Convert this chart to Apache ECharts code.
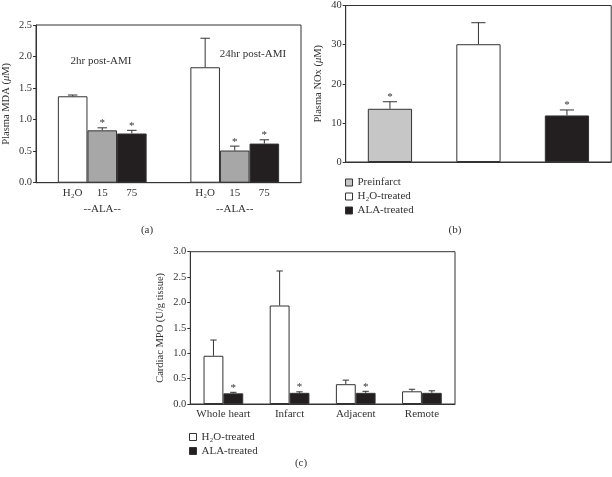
<!DOCTYPE html>
<html><head><meta charset="utf-8">
<script src="https://cdn.jsdelivr.net/npm/echarts@6/dist/echarts.min.js"></script>
<style>html,body{margin:0;padding:0;background:#fff}#c{width:612px;height:477px}</style>
</head><body><div id="c"></div>
<script>
// ---- Panel (a): Plasma MDA ----
const aCategories = ['2hr post-AMI', '24hr post-AMI'];
const aBarLabels = ['H\u2082O', '15', '75'];
const aH2O = [1.37, 1.83];
const aH2OErr = [1.39, 2.29];
const a15 = [0.83, 0.51];
const a15Err = [0.87, 0.58];
const a75 = [0.78, 0.62];
const a75Err = [0.83, 0.68];
const aH2OStar = [0, 0];
const a15Star = [1, 1];
const a75Star = [1, 1];
const aTicks = [0, 0.5, 1.0, 1.5, 2.0, 2.5];

// ---- Panel (b): Plasma NOx ----
const bCategories = ['Preinfarct', 'H\u2082O-treated', 'ALA-treated'];
const bValues = [13.6, 30.1, 11.9];
const bErr = [15.4, 35.6, 13.3];
const bStars = [1, 0, 1];
const bTicks = [0, 10, 20, 30, 40];

// ---- Panel (c): Cardiac MPO ----
const cCategories = ['Whole heart', 'Infarct', 'Adjacent', 'Remote'];
const cH2O = [0.95, 1.94, 0.39, 0.25];
const cH2OErr = [1.26, 2.62, 0.47, 0.29];
const cALA = [0.21, 0.22, 0.22, 0.22];
const cALAErr = [0.23, 0.24, 0.25, 0.26];
const cH2OStar = [0, 0, 0, 0];
const cALAStar = [1, 1, 1, 0];
const cTicks = [0, 0.5, 1.0, 1.5, 2.0, 2.5, 3.0];

const FONT = '"Liberation Serif","DejaVu Serif",serif';
const INK = '#333';
const GREY_A = '#a7a7a7', GREY_B = '#c6c6c6', BLACK = '#231f20', WHITE = '#ffffff';

function errSeries(grid, vals, errs, stars, k, n, gapRatio) {
  return {
    type: 'custom', xAxisIndex: grid, yAxisIndex: grid, z: 5, silent: true,
    data: vals.map((v, i) => [i, v, errs[i], stars[i]]),
    renderItem: function (params, api) {
      const idx = api.value(0);
      const band = api.size([1, 0])[0];
      const bw = band * (1 - gapRatio) / n;
      const off = (k - (n - 1) / 2) * bw;
      const p0 = api.coord([idx, api.value(1)]);
      const p1 = api.coord([idx, api.value(2)]);
      const x = p0[0] + off;
      const cap = Math.max(3, bw * 0.16);
      const st = { stroke: INK, lineWidth: 1 };
      const children = [
        { type: 'line', shape: { x1: x, y1: p0[1], x2: x, y2: p1[1] }, style: st },
        { type: 'line', shape: { x1: x - cap, y1: p1[1], x2: x + cap, y2: p1[1] }, style: st }
      ];
      if (api.value(3)) {
        children.push({ type: 'text', style: { text: '*', x: x, y: p1[1] + 1, align: 'center', verticalAlign: 'bottom', font: '11px ' + FONT, fill: INK } });
      }
      return { type: 'group', children: children };
    }
  };
}

function barSeries(name, grid, data, color, extra) {
  return Object.assign({
    name: name, type: 'bar', xAxisIndex: grid, yAxisIndex: grid, data: data,
    itemStyle: { color: color, borderColor: INK, borderWidth: 1 },
    emphasis: { disabled: true }
  }, extra || {});
}

function aLabel(text) {
  return { show: true, position: ['50%', '100%'], offset: [0, 5], align: 'center', verticalAlign: 'top',
    formatter: () => text, fontFamily: FONT, fontSize: 11, color: INK };
}

const yAxisCommon = (min, max, interval, dec) => ({
  type: 'value', min: min, max: max, interval: interval,
  splitLine: { show: false },
  axisLine: { show: true, lineStyle: { color: INK } },
  axisTick: { show: true, length: 3, lineStyle: { color: INK } },
  axisLabel: { fontFamily: FONT, fontSize: 10.5, color: INK, margin: 4, formatter: v => v.toFixed(dec) },
  nameLocation: 'middle', nameRotate: 90,
  nameTextStyle: { fontFamily: FONT, fontSize: 10.5, color: INK, rich: { i: { fontFamily: FONT, fontSize: 10.5, fontStyle: 'italic', color: INK } } }
});

const gridStyle = { show: true, borderColor: INK, borderWidth: 1, backgroundColor: 'transparent' };

const legendCommon = {
  orient: 'vertical', itemWidth: 7, itemHeight: 7, itemGap: 3, icon: 'rect', selectedMode: false,
  itemStyle: { borderColor: INK, borderWidth: 1 },
  textStyle: { fontFamily: FONT, fontSize: 11, color: INK }
};

const option = {
  animation: false,
  backgroundColor: '#fff',
  grid: [
    Object.assign({ left: 35, top: 25, width: 266, height: 157.7 }, gridStyle),
    Object.assign({ left: 345.7, top: 4.7, width: 265.5, height: 157.3 }, gridStyle),
    Object.assign({ left: 190.3, top: 251.7, width: 264.7, height: 152.3 }, gridStyle)
  ],
  xAxis: [
    { type: 'category', gridIndex: 0, data: aCategories,
      axisLine: { lineStyle: { color: INK } }, axisTick: { show: false },
      axisLabel: { formatter: () => '--ALA--', margin: 21, fontFamily: FONT, fontSize: 11, color: INK } },
    { type: 'category', gridIndex: 1, data: bCategories,
      axisLine: { lineStyle: { color: INK } }, axisTick: { show: false }, axisLabel: { show: false } },
    { type: 'category', gridIndex: 2, data: cCategories,
      axisLine: { lineStyle: { color: INK } }, axisTick: { show: false },
      axisLabel: { interval: 0, margin: 5, fontFamily: FONT, fontSize: 11, color: INK } }
  ],
  yAxis: [
    Object.assign(yAxisCommon(aTicks[0], aTicks[aTicks.length - 1], 0.5, 1), { gridIndex: 0, name: 'Plasma MDA ({i|\u03bc}M)', nameGap: 24 }),
    Object.assign(yAxisCommon(bTicks[0], bTicks[bTicks.length - 1], 10, 0), { gridIndex: 1, name: 'Plasma NOx ({i|\u03bc}M)', nameGap: 22 }),
    Object.assign(yAxisCommon(cTicks[0], cTicks[cTicks.length - 1], 0.5, 1), { gridIndex: 2, name: 'Cardiac MPO (U/g tissue)', nameGap: 25 })
  ],
  legend: [
    Object.assign({ data: bCategories, left: 340, top: 172 }, legendCommon),
    Object.assign({ data: ['H\u2082O-treated', 'ALA-treated'], left: 184, top: 426.5 }, legendCommon)
  ],
  graphic: [
    { type: 'text', x: 101, y: 61, style: { text: aCategories[0], align: 'center', verticalAlign: 'middle', font: '11px ' + FONT, fill: INK } },
    { type: 'text', x: 253, y: 54, style: { text: aCategories[1], align: 'center', verticalAlign: 'middle', font: '11px ' + FONT, fill: INK } },
    { type: 'text', x: 147, y: 230, style: { text: '(a)', align: 'center', verticalAlign: 'middle', font: '11px ' + FONT, fill: INK } },
    { type: 'text', x: 455, y: 230, style: { text: '(b)', align: 'center', verticalAlign: 'middle', font: '11px ' + FONT, fill: INK } },
    { type: 'text', x: 301, y: 463, style: { text: '(c)', align: 'center', verticalAlign: 'middle', font: '11px ' + FONT, fill: INK } }
  ],
  series: [
    barSeries('H2O (a)', 0, aH2O, WHITE, { barGap: '0%', barCategoryGap: '33%', label: aLabel(aBarLabels[0]) }),
    barSeries('15 (a)', 0, a15, GREY_A, { barGap: '0%', barCategoryGap: '33%', label: aLabel(aBarLabels[1]) }),
    barSeries('75 (a)', 0, a75, BLACK, { barGap: '0%', barCategoryGap: '33%', label: aLabel(aBarLabels[2]) }),
    errSeries(0, aH2O, aH2OErr, aH2OStar, 0, 3, 0.33),
    errSeries(0, a15, a15Err, a15Star, 1, 3, 0.33),
    errSeries(0, a75, a75Err, a75Star, 2, 3, 0.33),

    barSeries(bCategories[0], 1, [bValues[0], null, null], GREY_B, { barGap: '-100%', barWidth: '50%' }),
    barSeries(bCategories[1], 1, [null, bValues[1], null], WHITE, { barGap: '-100%', barWidth: '50%' }),
    barSeries(bCategories[2], 1, [null, null, bValues[2]], BLACK, { barGap: '-100%', barWidth: '50%' }),
    errSeries(1, bValues, bErr, bStars, 0, 1, 0.5),

    barSeries('H\u2082O-treated', 2, cH2O, WHITE, { barGap: '0%', barCategoryGap: '40%' }),
    barSeries('ALA-treated', 2, cALA, BLACK, { barGap: '0%', barCategoryGap: '40%' }),
    errSeries(2, cH2O, cH2OErr, cH2OStar, 0, 2, 0.40),
    errSeries(2, cALA, cALAErr, cALAStar, 1, 2, 0.40)
  ]
};

const chart = echarts.init(document.getElementById('c'), null, { renderer: 'canvas' });
chart.setOption(option);
</script></body></html>
